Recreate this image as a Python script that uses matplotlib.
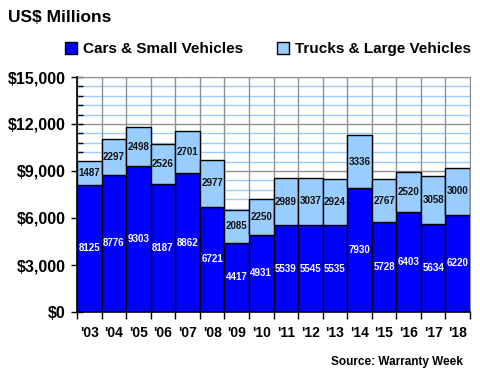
import numpy as np
import matplotlib.pyplot as plt
from matplotlib.ticker import MultipleLocator, FuncFormatter

plt.rcParams['font.family'] = ['Liberation Sans', 'DejaVu Sans']

years = ["'03", "'04", "'05", "'06", "'07", "'08", "'09", "'10", "'11",
         "'12", "'13", "'14", "'15", "'16", "'17", "'18"]
cars = [8125, 8776, 9303, 8187, 8862, 6721, 4417, 4931, 5539,
        5545, 5535, 7930, 5728, 6403, 5634, 6220]
trucks = [1487, 2297, 2498, 2526, 2701, 2977, 2085, 2250, 2989,
          3037, 2924, 3336, 2767, 2520, 3058, 3000]

fig = plt.figure(figsize=(4.8, 3.8), dpi=100)
ax = fig.add_axes([77 / 480, 1 - 312 / 380, 393 / 480, 235 / 380])

x = np.arange(len(years))
b1 = ax.bar(x, cars, width=1.0, color='#0000FF', edgecolor='black', linewidth=1.0,
            label='Cars & Small Vehicles', zorder=3)
b2 = ax.bar(x, trucks, width=1.0, bottom=cars, color='#99CCFF', edgecolor='black',
            linewidth=1.0, label='Trucks & Large Vehicles', zorder=3)

for i in range(len(years)):
    ax.text(x[i], cars[i] / 2, str(cars[i]), ha='center', va='center',
            color='white', fontsize=7, fontweight='bold', zorder=4)
    ax.text(x[i], cars[i] + trucks[i] / 2, str(trucks[i]), ha='center', va='center',
            color='#111111', fontsize=7, fontweight='bold', zorder=4)

ax.set_xlim(-0.5, len(years) - 0.5)
ax.set_ylim(0, 15000)

# grid: light blue minor, grey major, vertical grey at bar boundaries
ax.yaxis.set_major_locator(MultipleLocator(3000))
ax.yaxis.set_minor_locator(MultipleLocator(600))
ax.grid(axis='y', which='minor', color='#99CCFF', linewidth=1.0, zorder=1)
ax.grid(axis='y', which='major', color='#909090', linewidth=1.0, zorder=2)
for b in np.arange(-0.5, len(years), 1.0):
    ax.axvline(b, color='#909090', linewidth=1.0, zorder=2)

ax.yaxis.set_major_formatter(FuncFormatter(lambda v, p: '${:,.0f}'.format(v)))
ax.tick_params(axis='y', which='major', direction='inout', length=8, width=1,
               labelsize=11.5, pad=4)
ax.tick_params(axis='y', which='minor', direction='in', length=4, width=1)
for lab in ax.get_yticklabels():
    lab.set_fontweight('bold')

ax.set_xticks(x)
ax.set_xticklabels(years, fontsize=10, fontweight='bold')
ax.tick_params(axis='x', which='major', length=0, pad=10)
ax.set_xticks(np.arange(-0.5, len(years), 1.0), minor=True)
ax.tick_params(axis='x', which='minor', direction='out', length=5, width=1)

for s in ['top', 'right']:
    ax.spines[s].set_color('#909090')
for s in ['left', 'bottom']:
    ax.spines[s].set_color('black')
    ax.spines[s].set_linewidth(1.2)
    ax.spines[s].set_zorder(5)

fig.text(8 / 480, 1 - 17 / 380, 'US$ Millions', fontsize=12.5, fontweight='bold',
         va='center', ha='left')
fig.legend(handles=[b1, b2], loc='center', bbox_to_anchor=(268 / 480, 1 - 49 / 380),
           ncol=2, frameon=False, prop={'weight': 'bold', 'size': 11},
           handlelength=0.8, handleheight=0.8, handletextpad=0.4, columnspacing=2.2)
fig.text(463 / 480, 1 - 362 / 380, 'Source: Warranty Week', fontsize=8.5,
         fontweight='bold', ha='right', va='center')

fig.savefig('out.png', dpi=100)
